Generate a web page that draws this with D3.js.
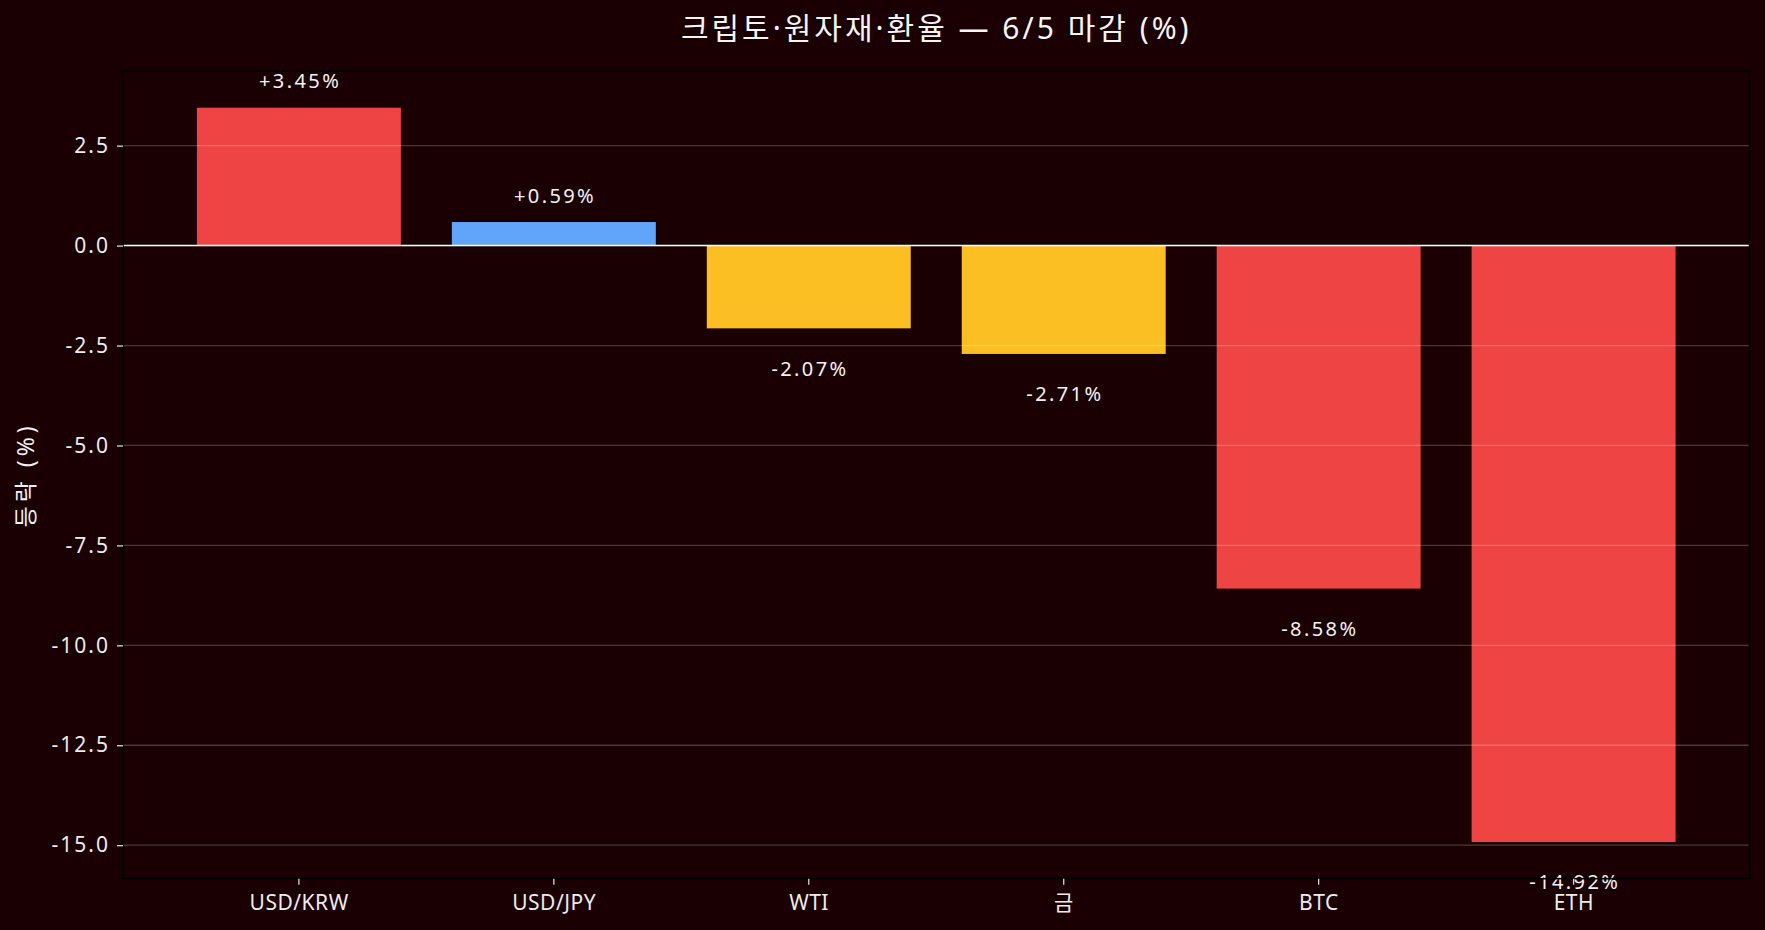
<!DOCTYPE html>
<html>
<head>
<meta charset="utf-8">
<script src="https://cdn.jsdelivr.net/npm/d3@7"></script>
<style>
  html, body { margin: 0; padding: 0; background: #1a0002; }
  svg { display: block; font-family: "Noto Sans", "Noto Sans CJK KR", sans-serif; }
</style>
</head>
<body>
<div id="okvir"></div>
<script>
// podaci
const kategorije = ["USD/KRW", "USD/JPY", "WTI", "금", "BTC", "ETH"]
const promjene = [3.45, 0.59, -2.07, -2.71, -8.58, -14.92]
const boje = ["#ef4444", "#60a5fa", "#fbbf24", "#fbbf24", "#ef4444", "#ef4444"]
const yTicks = [2.5, 0, -2.5, -5, -7.5, -10, -12.5, -15]
const naslov = "크립토·원자재·환율 — 6/5 마감 (%)"
const yNaslov = "등락 (%)"

const dataset = kategorije.map((k, i) => ({ ime: k, v: promjene[i], boja: boje[i] }))

// dimenzije
const dim = {
  sirina: 1765,
  visina: 930,
  margine: { top: 71, right: 15.5, bottom: 51.3, left: 123 },
}
dim.grSirina = dim.sirina - dim.margine.left - dim.margine.right
dim.grVisina = dim.visina - dim.margine.top - dim.margine.bottom

const okvir = d3.select("#okvir").append("svg")
  .attr("width", dim.sirina)
  .attr("height", dim.visina)

okvir.append("rect")
  .attr("width", dim.sirina).attr("height", dim.visina)
  .attr("fill", "#1a0002")

const granice = okvir.append("g")
  .attr("transform", `translate(${dim.margine.left},${dim.margine.top})`)

// razmjeri (matplotlib-style 5% margina)
const vMin = d3.min(promjene), vMax = d3.max(promjene)
const pad = (vMax - vMin) * 0.05
const y = d3.scaleLinear()
  .domain([vMin - pad, vMax + pad])
  .range([dim.grVisina, 0])

const x = d3.scaleBand()
  .domain(kategorije)
  .range([0, dim.grSirina])
  .paddingInner(0.2)
  .paddingOuter(0.29)

// stupci
granice.selectAll(".bar")
  .data(dataset)
  .enter().append("rect")
    .attr("class", "bar")
    .attr("x", d => x(d.ime))
    .attr("width", x.bandwidth())
    .attr("y", d => y(Math.max(0, d.v)))
    .attr("height", d => Math.abs(y(d.v) - y(0)))
    .attr("fill", d => d.boja)

// mreza (iznad stupaca)
granice.selectAll(".grid")
  .data(yTicks)
  .enter().append("line")
    .attr("class", "grid")
    .attr("x1", 0).attr("x2", dim.grSirina)
    .attr("y1", d => y(d)).attr("y2", d => y(d))
    .attr("stroke", "#ffffff")
    .attr("stroke-opacity", 0.22)
    .attr("stroke-width", 1.3)

// nulta linija
granice.append("line")
  .attr("x1", 0).attr("x2", dim.grSirina)
  .attr("y1", y(0)).attr("y2", y(0))
  .attr("stroke", "#ffffff")
  .attr("stroke-width", 1.5)

// oznake vrijednosti
granice.selectAll(".oznaka")
  .data(dataset)
  .enter().append("text")
    .attr("class", "oznaka")
    .attr("x", d => x(d.ime) + x.bandwidth() / 2 + 1.2)
    .attr("y", d => d.v >= 0 ? y(d.v) - 27 : y(d.v) + 40)
    .attr("text-anchor", "middle")
    .attr("dominant-baseline", "central")
    .attr("fill", "#f2f2f2")
    .style("font-size", "20px")
    .style("letter-spacing", "2.4px")
    .text(d => (d.v >= 0 ? "+" : "") + d.v.toFixed(2) + "%")

// okvir osi
granice.append("rect")
  .attr("width", dim.grSirina).attr("height", dim.grVisina)
  .attr("fill", "none")
  .attr("stroke", "#000000")
  .attr("stroke-width", 1.5)

// osi
const yOs = granice.append("g")
  .call(d3.axisLeft(y).tickValues(yTicks).tickSize(6).tickPadding(7)
    .tickFormat(d => d3.format(".1f")(d).replace("−", "-")))
yOs.select(".domain").remove()
yOs.selectAll(".tick line").attr("stroke", "#d9d9d9").attr("stroke-width", 1.3)
yOs.selectAll(".tick text")
  .attr("fill", "#ececec")
  .style("font-size", "21px")
  .style("letter-spacing", "2px")
  .style("font-family", "\"Noto Sans\", \"Noto Sans CJK KR\", sans-serif")

const xOs = granice.append("g")
  .attr("transform", `translate(0,${dim.grVisina})`)
  .call(d3.axisBottom(x).tickSize(6).tickPadding(10))
xOs.select(".domain").remove()
xOs.selectAll(".tick line").attr("stroke", "#d9d9d9").attr("stroke-width", 1.3)
xOs.selectAll(".tick text")
  .attr("fill", "#ececec")
  .attr("dx", "0.25px")
  .style("font-size", "21px")
  .style("letter-spacing", "0.5px")
  .style("font-family", "\"Noto Sans\", \"Noto Sans CJK KR\", sans-serif")

// naslovi
okvir.append("text")
  .attr("x", dim.margine.left + dim.grSirina / 2)
  .attr("y", 27)
  .attr("text-anchor", "middle")
  .attr("dominant-baseline", "central")
  .attr("fill", "#f5f5f5")
  .style("font-size", "30px")
  .style("letter-spacing", "3px")
  .text(naslov)

okvir.append("text")
  .attr("transform", `translate(25,${dim.margine.top + dim.grVisina / 2}) rotate(-90)`)
  .attr("text-anchor", "middle")
  .attr("dominant-baseline", "central")
  .attr("fill", "#f0f0f0")
  .style("font-size", "23px")
  .style("letter-spacing", "4px")
  .text(yNaslov)
</script>
</body>
</html>
